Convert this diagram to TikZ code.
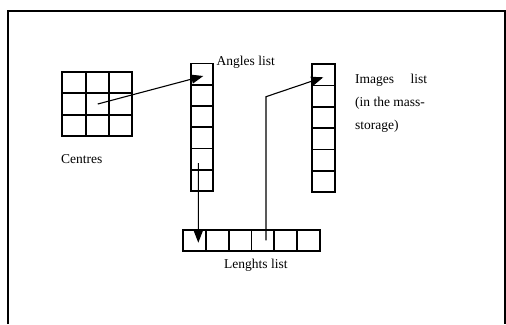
\documentclass[tikz,border=0pt]{standalone}
\usepackage{fontspec}
\setmainfont{Liberation Serif}
\usetikzlibrary{arrows.meta,calc}
\tikzset{
  cell/.style={draw, line width=1.7pt, inner sep=0pt, minimum width=#1},
  cell/.default=23pt,
  link/.style={line width=1.1pt, -{Triangle[length=12pt,width=9pt]}},
  caption/.style={inner sep=0pt, font=\fontsize{13.5}{23}\selectfont},
}
\begin{document}
\begin{tikzpicture}[x=1pt,y=-1pt]
\useasboundingbox (0,0) rectangle (506,324);
% outer frame (open at the bottom)
\draw[line width=1.6pt] (8,324) -- (8,11) -- (505,11) -- (505,324);

% Centres: 3x3 grid
\foreach \r/\y in {1/82.6,2/104,3/125.3}
  \foreach \c/\x in {1/74,2/97.8,3/120.6}
    \node[cell=23.4pt, minimum height=21.4pt] (c\r\c) at (\x,\y) {};
\node[caption, anchor=base west] (centres) at (61,163) {Centres};

% Angles list
\foreach \i/\y in {1/74,2/95.3,3/116.6,4/137.9,5/159.2,6/180.5}
  \node[cell=22.6pt, minimum height=21.3pt] (a\i) at (202,\y) {};
\node[caption, anchor=base west] (angles) at (216.5,65.5) {Angles list};

% Images list
\foreach \i/\y in {1/74.7,2/96,3/117.3,4/138.7,5/160,6/181.3}
  \node[cell=23.3pt, minimum height=21.3pt] (m\i) at (323.3,\y) {};
\node[caption, anchor=base west, align=left] (images) at (355,129)
  {\makebox[72pt][s]{Images\hfill list}\\(in the mass-\\storage)};

% Lenghts list
\foreach \i/\x in {1/194.4,2/217.3,3/240.1,4/262.9,5/285.8,6/308.6}
  \node[cell=22.8pt, minimum height=20.7pt] (l\i) at (\x,240.3) {};
\node[caption, anchor=base west] (lengths) at (224,268.5) {Lenghts list};

% connectors
\draw[link] (c22.center) -- ($(a1.center)+(1.3,2)$);
\draw[link] ($(a5.center)+(-3.7,4)$) -- ($(l1.center)+(3.9,2.4)$);
\coordinate (bend) at ($(l4.center)+(3.1,-143.6)$);
\draw[link] ($(l4.center)+(3.1,0)$) -- (bend) -- ($(m1.center)+(0,2.6)$);
\end{tikzpicture}
\end{document}
